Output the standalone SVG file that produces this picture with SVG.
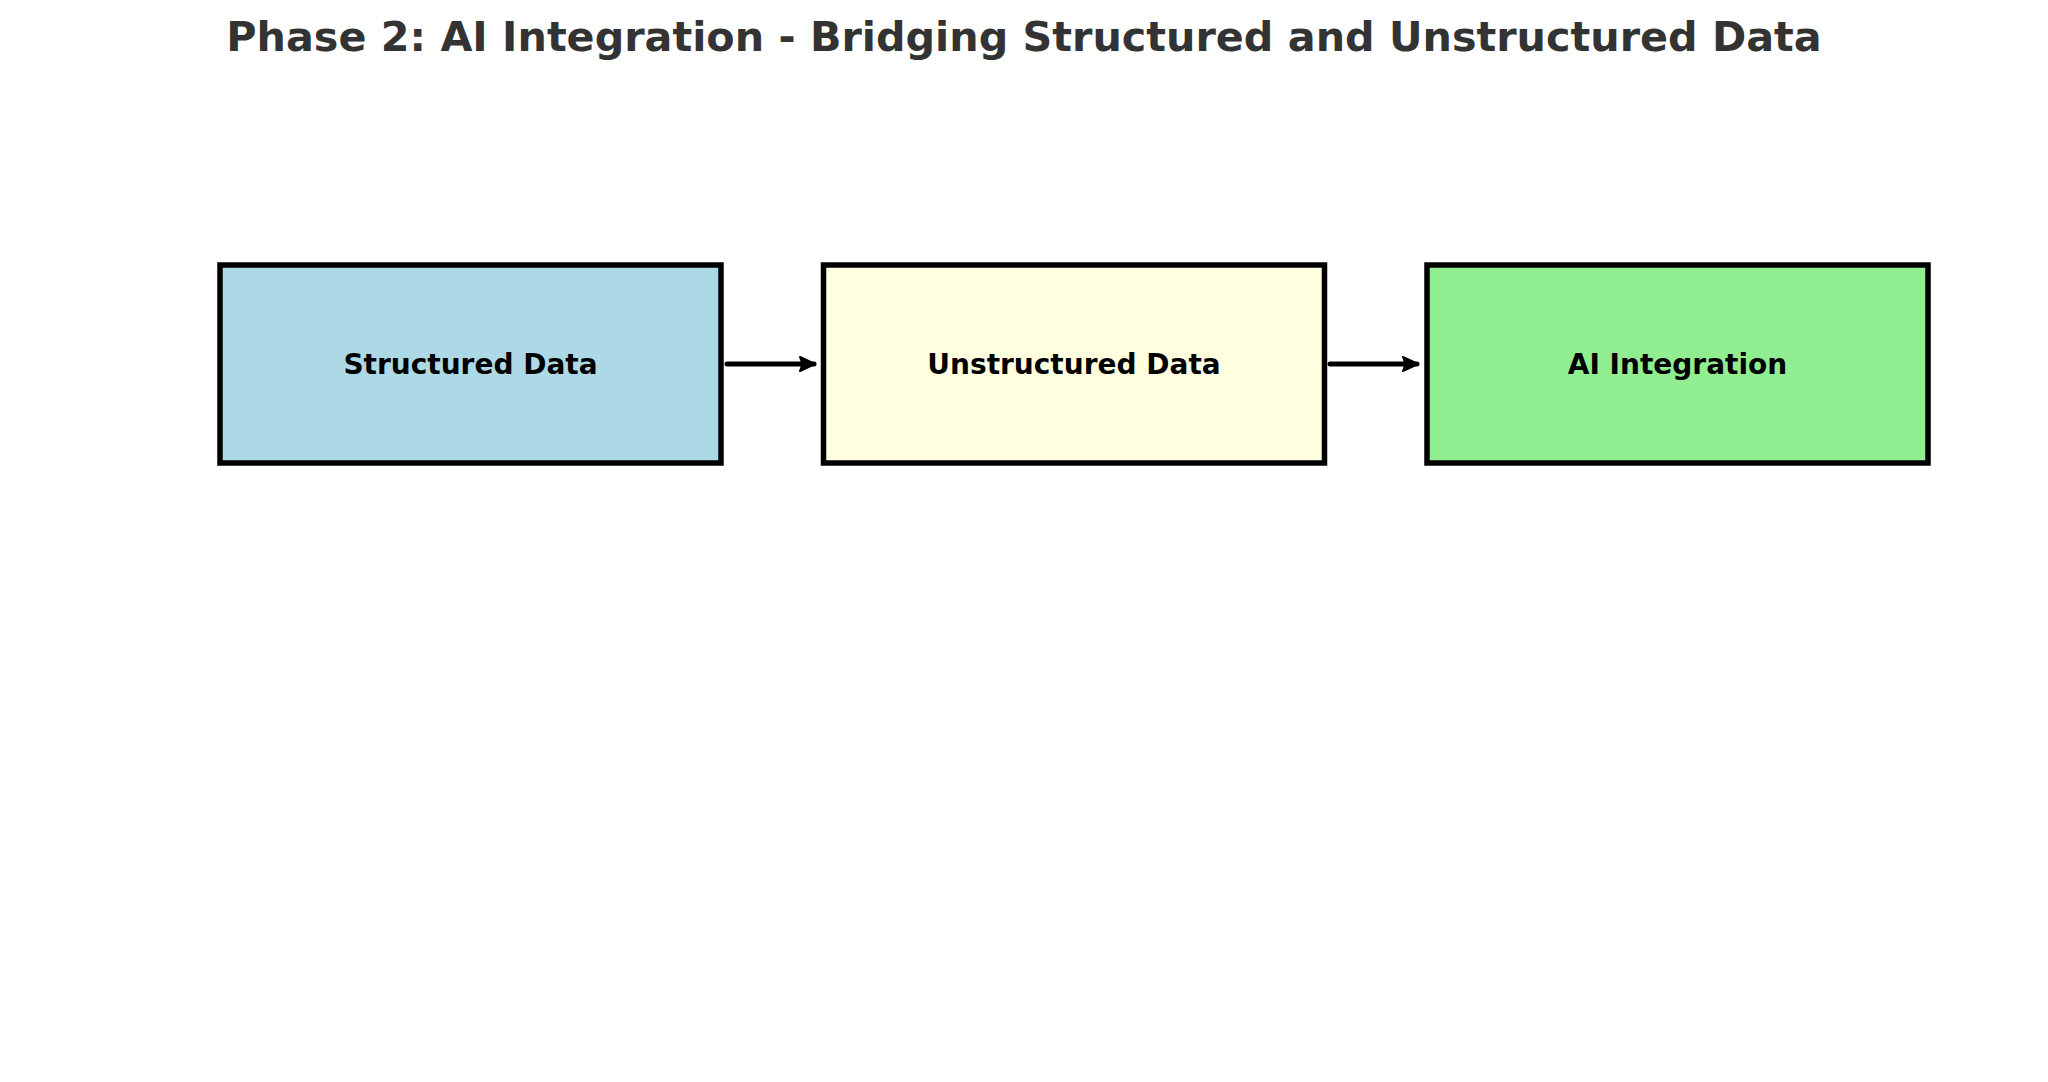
<svg xmlns="http://www.w3.org/2000/svg" width="2048" height="1082" viewBox="0 0 2048 1082">
<defs>
<style>
.box{stroke:#000;stroke-width:5.5}
.lbl{font-family:"DejaVu Sans",sans-serif;font-weight:bold;font-size:28px;fill:#000;text-anchor:middle}
.title{font-family:"DejaVu Sans",sans-serif;font-weight:bold;font-size:41.3px;fill:#333;text-anchor:middle}
.conn{stroke:#000;stroke-width:5;fill:none;stroke-linecap:round}
</style>
<marker id="ah" markerWidth="6" markerHeight="6" refX="4" refY="3" orient="auto" markerUnits="strokeWidth">
<path d="M1.2,1.6 L4.2,3 L1.2,4.4 L1.7,3 Z" fill="#000" stroke="#000" stroke-width="0.4" stroke-linejoin="round"/>
</marker>
</defs>
<rect width="2048" height="1082" fill="#fff"/>
<text class="title" x="1024" y="51">Phase 2: AI Integration - Bridging Structured and Unstructured Data</text>
<g id="n1"><rect class="box" x="220" y="265" width="501" height="198" fill="#ADD8E6"/><text class="lbl" x="470.5" y="374">Structured Data</text></g>
<g id="n2"><rect class="box" x="823.5" y="265" width="501" height="198" fill="#FFFFE0"/><text class="lbl" x="1074" y="374">Unstructured Data</text></g>
<g id="n3"><rect class="box" x="1427" y="265" width="501" height="198" fill="#90EE90"/><text class="lbl" x="1677.5" y="374">AI Integration</text></g>
<g id="connectors">
<line class="conn" x1="727" y1="364" x2="814" y2="364" marker-end="url(#ah)"/>
<line class="conn" x1="1330" y1="364" x2="1417" y2="364" marker-end="url(#ah)"/>
</g>
</svg>
